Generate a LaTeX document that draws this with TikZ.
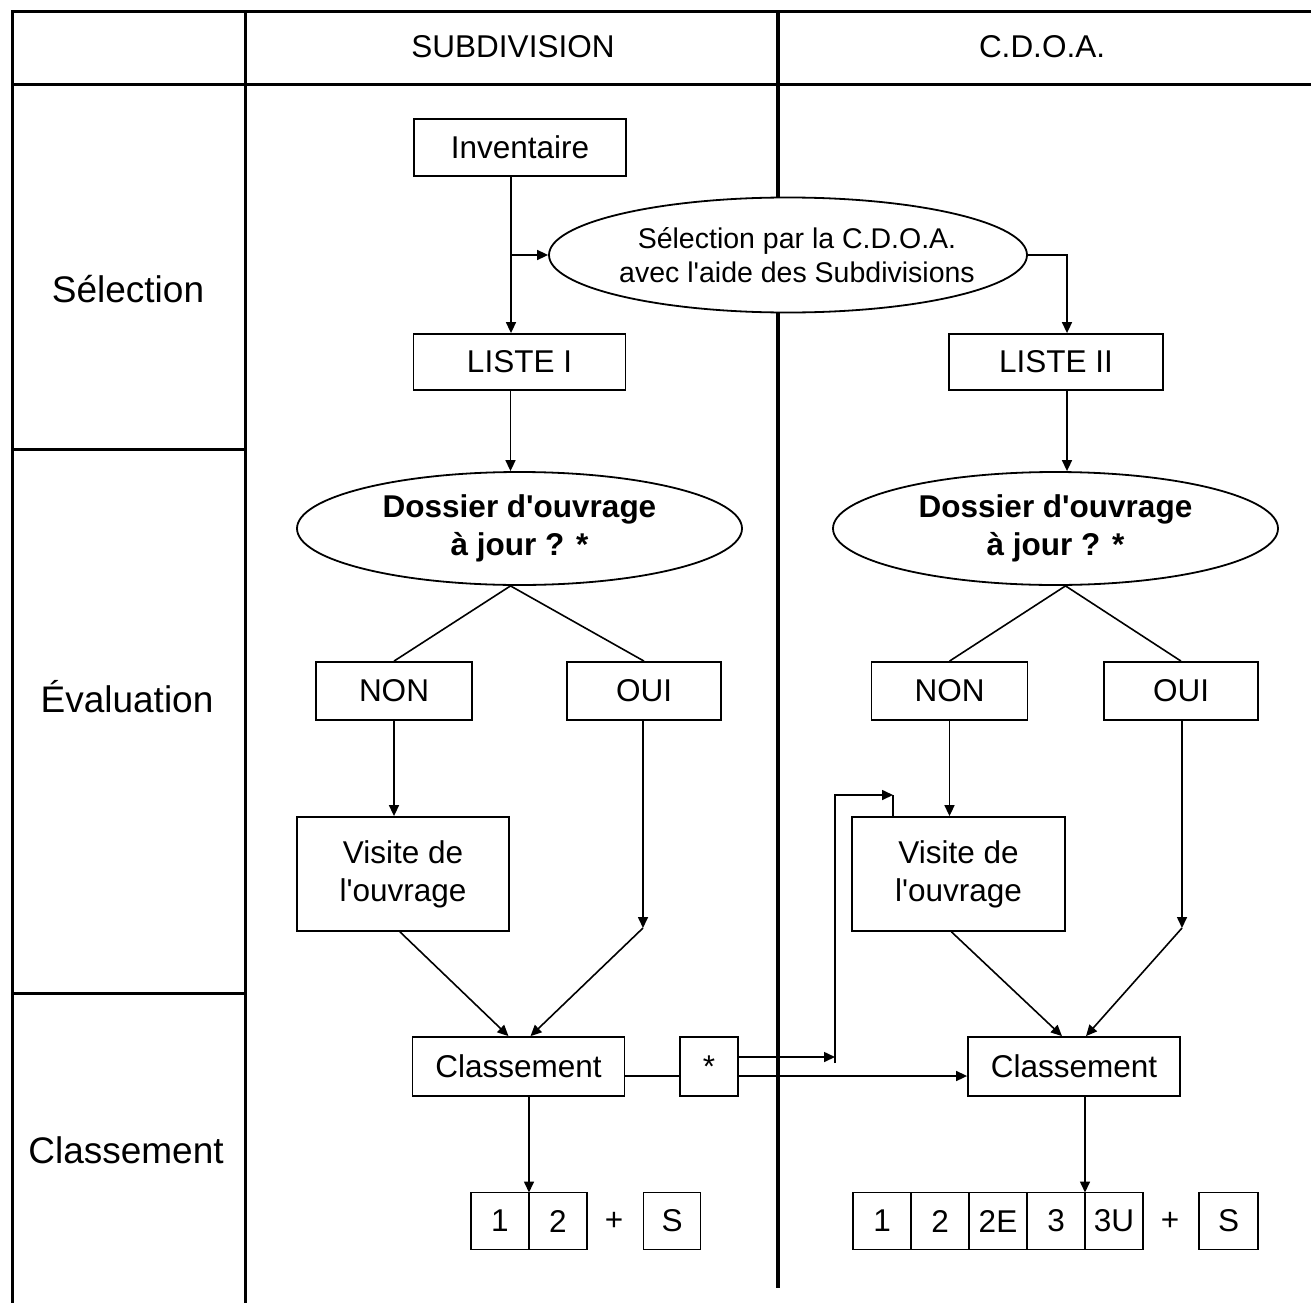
\documentclass[tikz,border=0pt]{standalone}
\usepackage{fontspec}
\setmainfont{Liberation Sans}
\usetikzlibrary{arrows.meta,positioning,shapes.geometric}
\newcommand\boxfont{\fontsize{31.5}{38}\selectfont}
\newcommand\lanefont{\fontsize{37}{44}\selectfont}
\newcommand\selfont{\fontsize{28.5}{34}\selectfont}
\tikzset{framerule/.style={line width=3pt},
  midrule/.style={line width=4pt},
  stepbox/.style={draw, line width=1.8pt, inner sep=0pt, align=center, font=\boxfont},
  testell/.style={draw, ellipse, line width=1.8pt, fill=white, inner sep=0pt,
    align=center, font=\boxfont\bfseries, minimum width=445pt, minimum height=113pt},
  scorecell/.style={draw, line width=1.8pt, inner sep=0pt, outer sep=0pt,
    minimum width=58pt, minimum height=57pt, font=\boxfont},
  linkarrow/.style={-{Triangle[length=11pt,width=10pt]}, line width=1.6pt},
  linkline/.style={line width=1.6pt},
  lanelabel/.style={font=\lanefont},
  plaintext/.style={font=\boxfont}}

\begin{document}
\begin{tikzpicture}[x=1pt, y=-1pt]
  \useasboundingbox (0,0) rectangle (1311,1303);
  % grid of the lanes
  \draw[framerule] (1311,12) -- (12,12) -- (12,1303);
  \draw[framerule] (12,85) -- (1311,85);
  \draw[framerule] (245,12) -- (245,1303);
  \draw[framerule] (12,449) -- (245,449);
  \draw[framerule] (12,993) -- (245,993);
  \draw[midrule] (778,12) -- (778,1288);

  \node[plaintext] (hsub) at (513,47) {SUBDIVISION};
  \node[plaintext] (hcdoa) at (1042,47) {C.D.O.A.};
  \node[lanelabel] (lsel) at (128,289) {Sélection};
  \node[lanelabel] (leva) at (127,697) {Évaluation};
  \node[lanelabel] (lcls) at (126,1150) {Classement};

  % selection
  \node[stepbox, minimum width=212pt, minimum height=57pt] (inv) at (520,147.5) {Inventaire};
  \node[draw, ellipse, line width=1.8pt, fill=white, inner sep=0pt,
    minimum width=478pt, minimum height=115pt,
    label={[font=\selfont, align=center, xshift=9pt]center:{Sélection par la C.D.O.A.\\avec l\textquotesingle aide des Subdivisions}}] (sel) at (788,255) {};
  \node[stepbox, minimum width=212pt, minimum height=56pt] (lst1) at (519.5,362) {LISTE I};
  \node[stepbox, minimum width=214pt, minimum height=56pt] (lst2) at (1056,362) {LISTE II};

  % evaluation
  \node[testell] (doss1) at (519.5,528.5) {Dossier d\textquotesingle ouvrage\\à jour ? *};
  \node[testell] (doss2) at (1055.5,528.5) {Dossier d\textquotesingle ouvrage\\à jour ? *};
  \node[stepbox, minimum width=156pt, minimum height=58pt] (non1) at (394,691) {NON};
  \node[stepbox, minimum width=154pt, minimum height=58pt] (oui1) at (644,691) {OUI};
  \node[stepbox, minimum width=156pt, minimum height=58pt] (non2) at (949.5,691) {NON};
  \node[stepbox, minimum width=154pt, minimum height=58pt] (oui2) at (1181,691) {OUI};
  \node[stepbox, minimum width=212pt, minimum height=114pt] (vis1) at (403,874) {Visite de\\l\textquotesingle ouvrage};
  \node[stepbox, minimum width=213pt, minimum height=114pt] (vis2) at (958.5,874) {Visite de\\l\textquotesingle ouvrage};

  % classement
  \node[stepbox, minimum width=212pt, minimum height=59pt] (cls1) at (518.5,1066.5) {Classement};
  \node[stepbox, minimum width=58pt, minimum height=59pt] (star) at (709,1066.5) {*};
  \node[stepbox, minimum width=212pt, minimum height=59pt] (cls2) at (1074,1066.5) {Classement};

  \node[scorecell] (sa1) at (500,1221) {1};
  \node[scorecell, right=0pt of sa1] (sa2) {2};
  \node[plaintext] (saplus) at (614,1221) {+};
  \node[scorecell, minimum width=57pt] (sas) at (672,1221) {S};

  \node[scorecell] (sb1) at (882,1221) {1};
  \node[scorecell, right=0pt of sb1] (sb2) {2};
  \node[scorecell, right=0pt of sb2] (sb3) {2E};
  \node[scorecell, right=0pt of sb3] (sb4) {3};
  \node[scorecell, right=0pt of sb4] (sb5) {3U};
  \node[plaintext] (sbplus) at (1170,1221) {+};
  \node[scorecell, minimum width=59pt] (sbs) at (1228.5,1221) {S};

  \coordinate (o1) at (643,928);
  \coordinate (o2) at (1182,928);
  \coordinate (up) at (835,1057);
  \coordinate (riseA) at (835,1063);
  \coordinate (riseB) at (893,795);

  % connectors
  \draw[linkarrow] ([xshift=-9pt]inv.south) -- ([xshift=-9pt]inv.south |- lst1.north);
  \draw[linkarrow] ([xshift=-9pt]inv.south |- sel.west) -- (sel.west);
  \draw[linkarrow] (sel.east) -| ([xshift=11pt]lst2.north);
  \draw[linkarrow] ([xshift=-9pt]lst1.south) -- ([xshift=-9pt]lst1.south |- doss1.north);
  \draw[linkarrow] ([xshift=11pt]lst2.south) -- ([xshift=11pt]lst2.south |- doss2.north);
  \draw[linkline] (non1.north) -- ([xshift=-9pt]doss1.south) -- (oui1.north);
  \draw[linkline] (non2.north) -- ([xshift=10pt]doss2.south) -- (oui2.north);
  \draw[linkarrow] (non1.south) -- (non1.south |- vis1.north);
  \draw[linkarrow] (non2.south) -- (non2.south |- vis2.north);
  \draw[linkarrow] (oui1.south -| o1) -- (o1);
  \draw[linkarrow] (oui2.south -| o2) -- (o2);
  \draw[linkarrow] (o1) -- ([xshift=12pt]cls1.north);
  \draw[linkarrow] ([xshift=-3pt]vis1.south) -- ([xshift=-10pt]cls1.north);
  \draw[linkarrow] (o2) -- ([xshift=12pt]cls2.north);
  \draw[linkarrow] ([xshift=-7pt]vis2.south) -- ([xshift=-12pt]cls2.north);
  \draw[linkline] ([yshift=-9.5pt]cls1.east) -- ([yshift=-9.5pt]star.west);
  \draw[linkarrow] ([yshift=-9.5pt]star.east) -- ([yshift=-9.5pt]cls2.west);
  \draw[linkarrow] ([yshift=9.5pt]star.east) -- (up);
  \draw[linkarrow] (riseA) |- (riseB);
  \draw[linkline] (riseB) -- (riseB |- vis2.north);
  \draw[linkarrow] (sa1.north east |- cls1.south) -- (sa1.north east);
  \draw[linkarrow] (sb4.north east |- cls2.south) -- (sb4.north east);
\end{tikzpicture}
\end{document}
